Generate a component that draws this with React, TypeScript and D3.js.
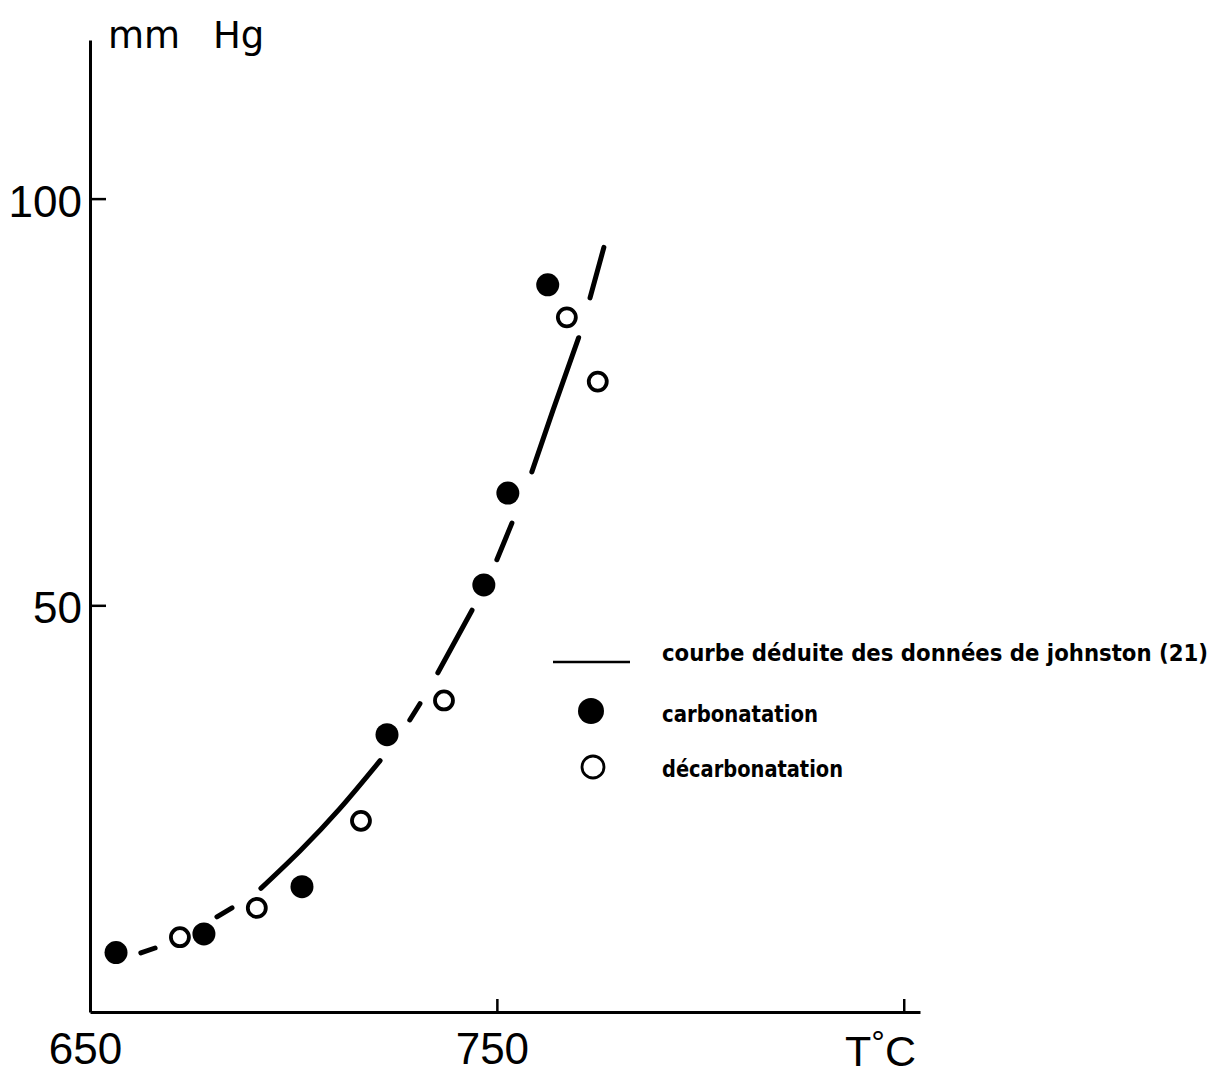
import React, { useRef, useEffect } from 'react'
import * as d3 from 'd3'

// points: T (°C), P (mm Hg)
const carbonatation: [number, number][] = [
    [656.4, 7.3],
    [678.0, 9.6],
    [702.1, 15.4],
    [723.0, 34.1],
    [746.8, 52.5],
    [752.7, 63.8],
    [762.5, 89.4],
]

const decarbonatation: [number, number][] = [
    [672.1, 9.2],
    [691.0, 12.8],
    [716.6, 23.5],
    [737.0, 38.3],
    [767.2, 85.4],
    [774.8, 77.5],
]

// courbe de Johnston, tracée en morceaux (interrompue autour des points)
const johnstonPieces: [number, number][][] = [
    [[662.5, 7.26], [666.0, 7.87]],
    [[681.2, 11.7], [684.9, 12.8]],
    [[692.0, 15.2], [701.6, 19.8], [711.4, 25.0], [721.3, 30.9]],
    [[728.6, 35.9], [731.1, 37.9]],
    [[735.5, 41.7], [743.9, 49.4]],
    [[750.0, 55.6], [753.7, 60.1]],
    [[758.6, 66.4], [763.8, 74.0], [770.1, 82.9]],
    [[772.9, 87.8], [776.3, 94.0]],
]

const xTicks = [650, 750, 850]
const yTicks = [50, 100]
const legendLabels = ['courbe déduite des données de johnston (21)', 'carbonatation', 'décarbonatation']

const W = 1219
const H = 1074

export default function App() {
    const svgRef = useRef<SVGSVGElement>(null)

    useEffect(() => {
        if (!svgRef.current) return
        const svg = d3.select(svgRef.current)
        svg.selectAll('*').remove()

        const x = d3.scaleLinear().domain([650, 854]).range([90, 920])
        const y = d3.scaleLinear().domain([0, 119.5]).range([1012, 40])

        const numFont = "'Liberation Sans', Arial, sans-serif"

        // axe X
        const xAxis = d3
            .axisBottom(x)
            .tickValues(xTicks)
            .tickSizeInner(-13)
            .tickSizeOuter(0)
            .tickPadding(21)
            .tickFormat((d) => (d === 850 ? '' : String(d)))

        const gx = svg.append('g').attr('transform', `translate(0,${y(0)})`).call(xAxis)
        gx.select('.domain').attr('stroke-width', 3)
        gx.selectAll('.tick line').attr('stroke-width', 2.5)
        gx.selectAll('.tick text')
            .attr('font-family', numFont)
            .attr('font-size', 44)
            .attr('fill', '#000')
            .attr('dx', -5)
        gx.selectAll('.tick')
            .filter((d) => d === 650)
            .select('line')
            .remove()

        // axe Y
        const yAxis = d3
            .axisLeft(y)
            .tickValues(yTicks)
            .tickSizeInner(-16)
            .tickSizeOuter(0)
            .tickPadding(8)

        const gy = svg.append('g').attr('transform', `translate(${x(650)},0)`).call(yAxis)
        gy.select('.domain').attr('stroke-width', 3)
        gy.selectAll('.tick line').attr('stroke-width', 2.5)
        gy.selectAll('.tick text')
            .attr('font-family', numFont)
            .attr('font-size', 44)
            .attr('fill', '#000')
            .attr('dy', '0.4em')

        // titres des axes
        const unit = svg
            .append('text')
            .attr('y', 48)
            .attr('font-family', "'DejaVu Sans', sans-serif")
            .attr('font-size', 37)
        unit.append('tspan').attr('x', 108).text('mm')
        unit.append('tspan').attr('x', 213).text('Hg')

        const tc = svg
            .append('text')
            .attr('x', 845)
            .attr('y', 1066)
            .attr('font-family', numFont)
            .attr('font-size', 43)
        tc.append('tspan').text('T')
        tc.append('tspan').attr('font-size', 34).attr('dy', -12).text('°')
        tc.append('tspan').attr('dy', 12).text('C')

        // courbe
        const line = d3
            .line<[number, number]>()
            .x((d) => x(d[0]))
            .y((d) => y(d[1]))
            .curve(d3.curveNatural)

        svg.append('g')
            .selectAll('path')
            .data(johnstonPieces)
            .enter()
            .append('path')
            .attr('d', (d) => line(d))
            .attr('fill', 'none')
            .attr('stroke', '#000')
            .attr('stroke-width', 5)
            .attr('stroke-linecap', 'round')

        // points
        svg.append('g')
            .selectAll('circle')
            .data(carbonatation)
            .enter()
            .append('circle')
            .attr('cx', (d) => x(d[0]))
            .attr('cy', (d) => y(d[1]))
            .attr('r', 11.5)
            .attr('fill', '#000')

        svg.append('g')
            .selectAll('circle')
            .data(decarbonatation)
            .enter()
            .append('circle')
            .attr('cx', (d) => x(d[0]))
            .attr('cy', (d) => y(d[1]))
            .attr('r', 9)
            .attr('fill', '#fff')
            .attr('stroke', '#000')
            .attr('stroke-width', 3.8)

        // légende
        const lg = svg.append('g')
        lg.append('line')
            .attr('x1', 553)
            .attr('x2', 630)
            .attr('y1', 662)
            .attr('y2', 662)
            .attr('stroke', '#000')
            .attr('stroke-width', 2.5)
        lg.append('circle').attr('cx', 591).attr('cy', 711).attr('r', 13).attr('fill', '#000')
        lg.append('circle')
            .attr('cx', 593)
            .attr('cy', 767)
            .attr('r', 11)
            .attr('fill', '#fff')
            .attr('stroke', '#000')
            .attr('stroke-width', 2.8)

        const legendY = [661, 722, 777]
        const legendLen = [546, 156, 181]
        lg.selectAll('text.lbl')
            .data(legendLabels)
            .enter()
            .append('text')
            .attr('class', 'lbl')
            .attr('x', 662)
            .attr('y', (_, i) => legendY[i])
            .attr('font-family', "'DejaVu Sans Condensed', 'Liberation Sans Narrow', sans-serif")
            .attr('font-weight', 'bold')
            .attr('font-size', 23)
            .attr('textLength', (_, i) => legendLen[i])
            .attr('lengthAdjust', 'spacingAndGlyphs')
            .text((d) => d)
    }, [])

    return (
        <svg
            ref={svgRef}
            width={W}
            height={H}
            style={{ position: 'absolute', left: 0, top: 0, background: '#fff' }}
        />
    )
}
